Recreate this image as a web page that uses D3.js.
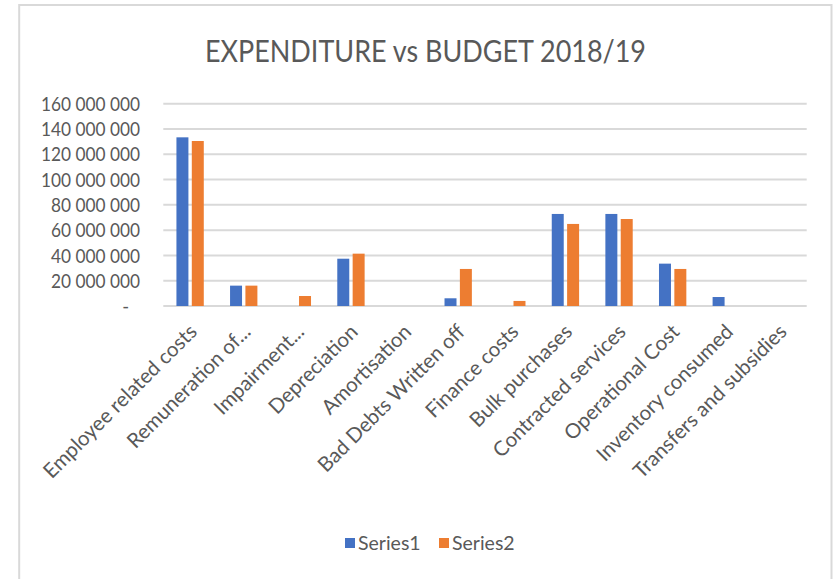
<!DOCTYPE html>
<html>
<head>
<meta charset="utf-8">
<script src="https://cdn.jsdelivr.net/npm/d3@7"></script>
<style>
  html, body { margin: 0; padding: 0; background: #fff; }
  svg { display: block; }
  text { font-family: Lato, "Open Sans", sans-serif; fill: #595959; }
</style>
</head>
<body>
<svg id="chart" width="838" height="579"></svg>
<script>
// Expenditure vs budget per cost category
const categories = [
  "Employee related costs", "Remuneration of...", "Impairment...", "Depreciation",
  "Amortisation", "Bad Debts Written off", "Finance costs", "Bulk purchases",
  "Contracted services", "Operational Cost", "Inventory consumed", "Transfers and subsidies"
];
const seriesNames = ["Series1", "Series2"];
const series1 = [133400000, 16100000, 0, 37400000, 0, 6100000, 0, 72800000, 72800000, 33500000, 7100000, 0];
const series2 = [130500000, 16100000, 7900000, 41400000, 0, 29300000, 4000000, 64900000, 68800000, 29300000, 0, 0];
const yTicks = [0, 20000000, 40000000, 60000000, 80000000, 100000000, 120000000, 140000000, 160000000];
const titleText = "EXPENDITURE vs BUDGET 2018/19";

const colors = ["#4472C4", "#ED7D31"];
const gridColor = "#d9d9d9";

const svg = d3.select("#chart");

// chart area frame
svg.append("rect")
  .attr("x", 19.2).attr("y", 5).attr("width", 812.3).attr("height", 620)
  .attr("fill", "#fff").attr("stroke", gridColor).attr("stroke-width", 2);

const plot = { left: 163.3, right: 806.7, top: 103.7, bottom: 306 };

const x = d3.scaleBand().domain(categories).range([plot.left, plot.right]).paddingInner(0).paddingOuter(0);
const bw = x.bandwidth();
const xs = d3.scaleBand().domain(seriesNames).range([bw * 0.245, bw * 0.755]).paddingInner(0.22);
const y = d3.scaleLinear().domain([0, 160000000]).range([plot.bottom, plot.top]);

// squeeze text horizontally to a narrower face
function squeeze(sel, k) {
  sel.each(function () {
    const len = this.getComputedTextLength();
    d3.select(this).attr("textLength", len * k).attr("lengthAdjust", "spacingAndGlyphs");
  });
}

// title
svg.append("text")
  .attr("x", 425.5).attr("y", 62)
  .attr("text-anchor", "middle")
  .style("font-size", "30px")
  .attr("textLength", 441).attr("lengthAdjust", "spacingAndGlyphs")
  .text(titleText);

// gridlines
svg.append("g")
  .selectAll("line")
  .data(yTicks)
  .join("line")
  .attr("x1", plot.left).attr("x2", plot.right)
  .attr("y1", d => y(d)).attr("y2", d => y(d))
  .attr("stroke", gridColor).attr("stroke-width", 2);

// y axis labels
const fmt = v => v === 0 ? "-" : d3.format(",")(v).replace(/,/g, " ");
const yAxis = d3.axisLeft(y).tickValues(yTicks).tickFormat(fmt).tickSize(0).tickPadding(0);
const yg = svg.append("g").attr("transform", "translate(140,0)").call(yAxis);
yg.select(".domain").remove();
yg.selectAll("text")
  .style("font-size", "18.5px").style("font-family", "Lato, sans-serif").attr("fill", "#595959")
  .attr("dy", "0.36em")
  .attr("dx", d => d === 0 ? -11 : 0);
let kY = 1;
yg.selectAll("text").filter(d => d === 160000000).each(function () { kY = 99 / this.getComputedTextLength(); });
yg.selectAll("text").filter(d => d !== 0).call(squeeze, kY);

// bars
const rows = categories.map((c, i) => ({ c, vals: [series1[i], series2[i]] }));
const groups = svg.append("g").selectAll("g")
  .data(rows)
  .join("g")
  .attr("transform", d => `translate(${x(d.c)},0)`);
groups.selectAll("rect")
  .data(d => d.vals.map((v, j) => ({ s: seriesNames[j], v, j })).filter(e => e.v > 0))
  .join("rect")
  .attr("x", e => xs(e.s))
  .attr("width", xs.bandwidth())
  .attr("y", e => y(e.v))
  .attr("height", e => y(0) - y(e.v))
  .attr("fill", e => colors[e.j]);

// category labels
svg.append("g").selectAll("text")
  .data(categories)
  .join("text")
  .attr("transform", d => `translate(${x(d) + bw / 2 + 3},${plot.bottom + 22}) rotate(-45)`)
  .attr("text-anchor", "end")
  .attr("dy", "0.35em")
  .style("font-size", "20.5px")
  .text(d => d);

// legend
const legend = svg.append("g");
const legendX = [345, 439];
seriesNames.forEach((s, j) => {
  legend.append("rect")
    .attr("x", legendX[j]).attr("y", 538).attr("width", 10).attr("height", 10)
    .attr("fill", colors[j]);
  legend.append("text")
    .attr("x", legendX[j] + 13).attr("y", 549.5)
    .style("font-size", "19.5px")
    .text(s);
});
</script>
</body>
</html>
